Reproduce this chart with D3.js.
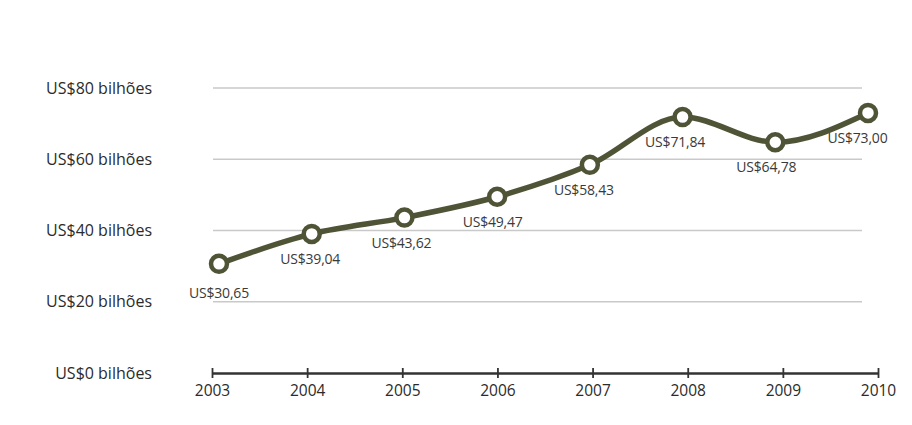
<!DOCTYPE html>
<html>
<head>
<meta charset="utf-8">
<script src="https://cdn.jsdelivr.net/npm/d3@7"></script>
<style>
  html, body { margin: 0; padding: 0; background: #fff; }
  svg { display: block; }
</style>
</head>
<body>
<svg id="chart" width="912" height="425"></svg>
<script>
// Annual values, US$ billions
const years = [2003, 2004, 2005, 2006, 2007, 2008, 2009, 2010];
const values = [30.65, 39.04, 43.62, 49.47, 58.43, 71.84, 64.78, 73.00];
const valueLabels = ["US$30,65", "US$39,04", "US$43,62", "US$49,47", "US$58,43", "US$71,84", "US$64,78", "US$73,00"];
const yTicks = [0, 20, 40, 60, 80];
const yTickLabels = ["US$0 bilhões", "US$20 bilhões", "US$40 bilhões", "US$60 bilhões", "US$80 bilhões"];

const svg = d3.select("#chart");
const font = "'Open Sans', 'Noto Sans', sans-serif";
const lineColor = "#4f5437";

// Axis spans slightly wider than the plotted markers
const xAxisScale = d3.scalePoint().domain(years).range([212, 878]);
const xScale = d3.scalePoint().domain(years).range([219, 868]);
const yScale = d3.scaleLinear().domain([0, 80]).range([373, 88]);

// Horizontal gridlines (above zero)
svg.append("g")
  .selectAll("line")
  .data(yTicks.filter(d => d > 0))
  .join("line")
  .attr("x1", 213).attr("x2", 862)
  .attr("y1", d => yScale(d)).attr("y2", d => yScale(d))
  .attr("stroke", "#c9c9c9")
  .attr("stroke-width", 1.5);

// Y tick labels
svg.append("g")
  .selectAll("text")
  .data(yTicks)
  .join("text")
  .attr("x", 152)
  .attr("y", d => yScale(d))
  .attr("dy", "0.35em")
  .attr("text-anchor", "end")
  .attr("font-family", font)
  .attr("font-size", 16)
  .attr("fill", "#2b2b2b")
  .text((d, i) => yTickLabels[i]);

// X axis
const xAxis = d3.axisBottom(xAxisScale).tickSizeInner(0).tickSizeOuter(0).tickPadding(12);
const gx = svg.append("g")
  .attr("transform", `translate(0,${yScale(0)})`)
  .call(xAxis);
gx.select(".domain")
  .attr("stroke", "#333")
  .attr("stroke-width", 2.5);
gx.selectAll(".tick text")
  .attr("font-family", font)
  .attr("font-size", 15.5)
  .attr("fill", "#2b2b2b");
gx.selectAll(".tick")
  .append("line")
  .attr("y1", -5).attr("y2", 5)
  .attr("stroke", "#333")
  .attr("stroke-width", 1.8);

// Series line
const line = d3.line()
  .x((d, i) => xScale(years[i]))
  .y(d => yScale(d))
  .curve(d3.curveMonotoneX);

svg.append("path")
  .datum(values)
  .attr("d", line)
  .attr("fill", "none")
  .attr("stroke", lineColor)
  .attr("stroke-width", 5.5)
  .attr("stroke-linejoin", "round");

// Markers
svg.append("g")
  .selectAll("circle")
  .data(values)
  .join("circle")
  .attr("cx", (d, i) => xScale(years[i]))
  .attr("cy", d => yScale(d))
  .attr("r", 8)
  .attr("fill", "#fff")
  .attr("stroke", lineColor)
  .attr("stroke-width", 4.5);

// Value labels below each marker
svg.append("g")
  .selectAll("text")
  .data(values)
  .join("text")
  .attr("x", (d, i) => xScale(years[i]) - i * 1.5)
  .attr("y", (d, i) => yScale(d) + (i === 0 ? 29 : 25))
  .attr("dy", "0.35em")
  .attr("text-anchor", "middle")
  .attr("font-family", font)
  .attr("font-size", 14)
  .attr("letter-spacing", -0.2)
  .attr("fill", "#3a3a3a")
  .text((d, i) => valueLabels[i]);
</script>
</body>
</html>
